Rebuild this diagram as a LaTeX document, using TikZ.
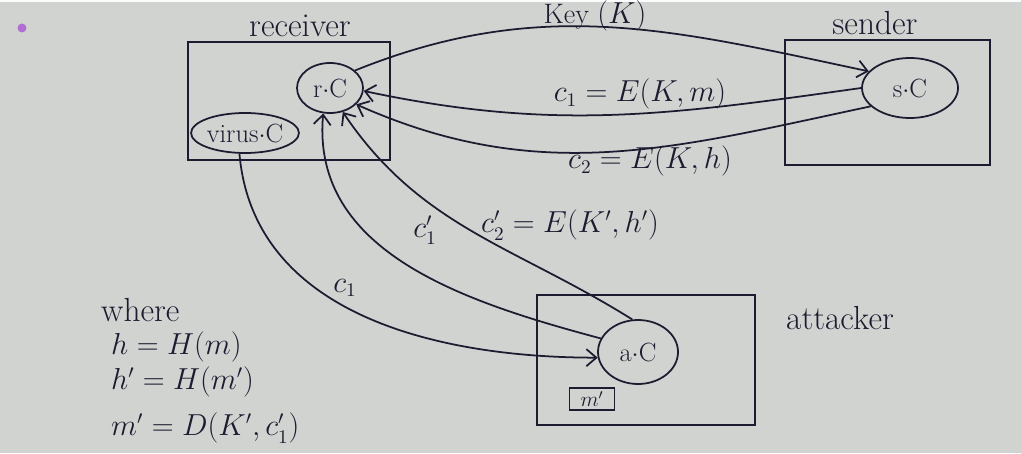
\documentclass[tikz,border=0pt]{standalone}
\usepackage{amsmath,amssymb}
\usetikzlibrary{shapes.geometric,arrows.meta}

\definecolor{paper}{RGB}{209,211,209}
\definecolor{pen}{RGB}{28,28,48}
\definecolor{marker}{RGB}{176,110,210}

\begin{document}
\begin{tikzpicture}[
    ink/.style={draw=pen, line width=1pt},
    party/.style={ink, ellipse, inner sep=0pt, text=pen, font=\fontsize{15}{18}\selectfont},
    msg/.style={ink, -{Straight Barb[length=2mm,width=3.4mm]}},
    lbl/.style={text=pen, font=\fontsize{16}{19}\selectfont},
    title/.style={text=pen, font=\fontsize{19}{22}\selectfont}
  ]

  % Canvas (same proportions as the sheet)
  \useasboundingbox (0,0) rectangle (20.42,9.06);
  \fill[paper] (0,0) rectangle (20.42,9.06);
  \fill[white!90!paper] (0,9.02) rectangle (20.42,9.06);
  \fill[marker] (0.44,8.5) circle (0.09);

  % Boxes
  \draw[ink] (3.76,5.86) rectangle (7.80,8.22);
  \draw[ink] (15.70,5.76) rectangle (19.80,8.26);
  \draw[ink] (10.74,0.56) rectangle (15.10,3.16);

  % Circles inside the boxes
  \node[party, minimum width=1.32cm, minimum height=1.0cm] (rC) at (6.6,7.3) {r$\cdot$C};
  \node[party, minimum width=1.8cm, minimum height=0.8cm] (vC) at (4.9,6.4) {virus$\cdot$C};
  \node[party, minimum width=1.92cm, minimum height=1.2cm] (sC) at (18.2,7.3) {s$\cdot$C};
  \node[party, minimum width=1.6cm, minimum height=1.28cm] (aC) at (12.76,2.02) {a$\cdot$C};
  \node[ink, minimum width=0.9cm, minimum height=0.44cm, inner sep=0pt, text=pen,
        font=\fontsize{12}{14}\selectfont] (mbox) at (11.84,1.08) {$m'$};

  % Box titles
  \node[title] (trecv) at (6.0,8.54) {receiver};
  \node[title] (tsend) at (17.5,8.6) {sender};
  \node[title] (tatk)  at (16.8,2.70) {attacker};

  % Messages between the parties
  \draw[msg] (rC.35) to[out=22,in=168] (sC.158);
  \draw[msg] (sC.180) to[out=188,in=-12] (rC.-5);
  \draw[msg] (sC.205) to[out=192,in=-24] (rC.-32);
  \draw[msg] (vC.255) to[out=-85,in=180] (aC.188);
  \draw[msg] (aC.160) to[out=165,in=-95] (rC.-105);
  \draw[msg] (aC.100) to[out=148,in=-56] (rC.-62);

  % Message labels
  \node[lbl] (lkey) at (11.9,8.74) {Key $(K)$};
  \node[lbl] (lc1)  at (12.8,7.18) {$c_1 = E(K,m)$};
  \node[lbl] (lc2)  at (13.0,5.84) {$c_2 = E(K,h)$};
  \node[lbl] (lc2p) at (11.4,4.56) {$c_2' = E(K',h')$};
  \node[lbl] (lc1p) at (8.5,4.46)  {$c_1'$};
  \node[lbl] (lc1b) at (6.9,3.30)  {$c_1$};

  % Notes
  \node[title, anchor=west] (nwhere) at (1.9,2.86) {where};
  \node[lbl, anchor=west] (nh)     at (2.1,2.12) {$h = H(m)$};
  \node[lbl, anchor=west] (nhp)    at (2.1,1.42) {$h' = H(m')$};
  \node[lbl, anchor=west] (nmp)    at (2.1,0.50) {$m' = D(K',c_1')$};

\end{tikzpicture}
\end{document}
